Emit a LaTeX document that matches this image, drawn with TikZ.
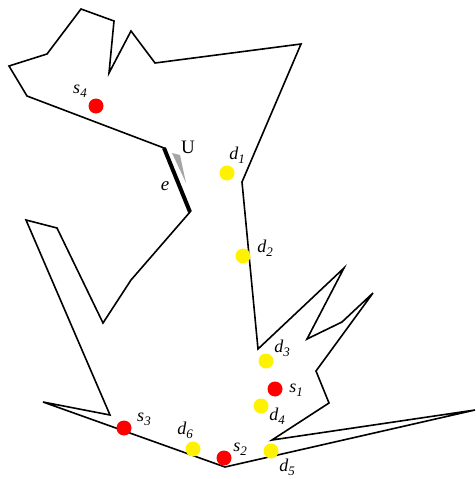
\documentclass[tikz,border=0pt]{standalone}
\usepackage{fontspec}
\setmainfont{Liberation Serif}
\newcommand{\sublab}[2]{#1\raisebox{-0.5ex}{\fontsize{13}{13}\selectfont #2}}
\begin{document}
\begin{tikzpicture}[x=1pt,y=-1pt,
  wall/.style={line width=1.6pt,line join=miter,black},
  edgee/.style={line width=4pt},
  src/.style={circle,fill=red,inner sep=0pt,minimum size=15pt},
  dst/.style={circle,fill=yellow,inner sep=0pt,minimum size=15pt},
  lab/.style={inner sep=0pt,font=\fontsize{18}{18}\selectfont\itshape}]
\useasboundingbox (0,0) rectangle (475,479);
\draw[wall] (81,9) -- (114,21) -- (109,73) -- (131,31) -- (155,63) -- (301,44)
  -- (242,182) -- (258,349) -- (344,268) -- (307,339) -- (342,322) -- (373,293)
  -- (316,371) -- (329,403) -- (272,440) -- (475,410) -- (225,467)
  -- (43,402) -- (110,415) -- (26,220) -- (57,228) -- (103,323) -- (131,280)
  -- (190,212) -- (164,148) -- (27,96) -- (9,66) -- (47,54) -- cycle;
\draw[edgee] (164,148) -- (190,212);
\fill[gray!70] (172,153) -- (180,155) -- (186,183) -- cycle;
\node[font=\fontsize{19}{19}\selectfont] (U) at (188,147) {U};
\node[lab,font=\fontsize{19}{19}\selectfont\itshape] (e) at (165,186) {e};
\node[src] (s4) at (96,106) {};
\node[lab] (ls4) at (80,91) {\sublab{s}{4}};
\node[dst] (d1) at (227,173) {};
\node[lab] (ld1) at (237,155) {\sublab{d}{1}};
\node[dst] (d2) at (243,256) {};
\node[lab] (ld2) at (265,248) {\sublab{d}{2}};
\node[dst] (d3) at (266,361) {};
\node[lab] (ld3) at (282,348) {\sublab{d}{3}};
\node[src] (s1) at (275,389) {};
\node[lab] (ls1) at (296,390) {\sublab{s}{1}};
\node[dst] (d4) at (261,406) {};
\node[lab] (ld4) at (277,416) {\sublab{d}{4}};
\node[dst] (d5) at (271,451) {};
\node[lab] (ld5) at (287,467) {\sublab{d}{5}};
\node[src] (s2) at (224,458) {};
\node[lab] (ls2) at (240,449) {\sublab{s}{2}};
\node[dst] (d6) at (193,449) {};
\node[lab] (ld6) at (185,430) {\sublab{d}{6}};
\node[src] (s3) at (124,428) {};
\node[lab] (ls3) at (144,419) {\sublab{s}{3}};
\end{tikzpicture}
\end{document}
